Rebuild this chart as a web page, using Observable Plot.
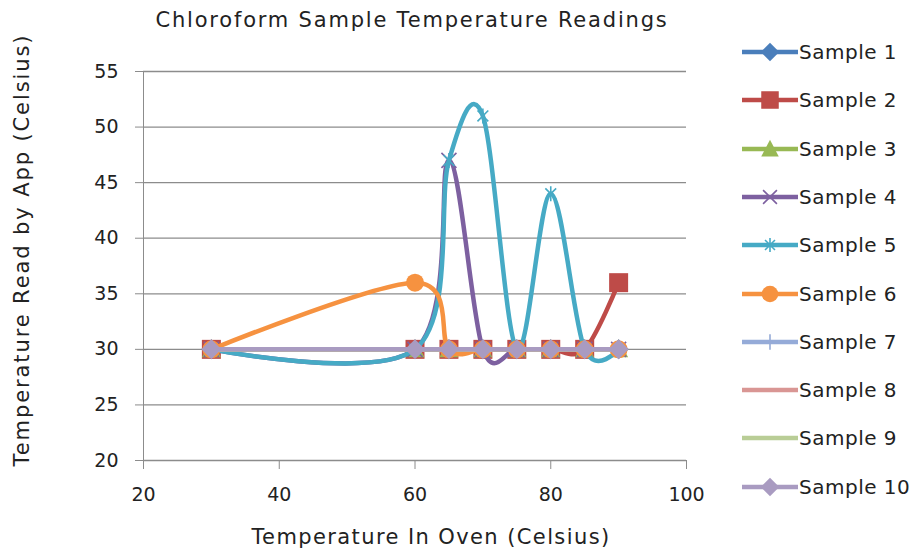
<!DOCTYPE html>
<html>
<head>
<meta charset="utf-8">
<script src="https://cdn.jsdelivr.net/npm/d3@7"></script>
<script src="https://cdn.jsdelivr.net/npm/@observablehq/plot@0.6"></script>
<style>
  html, body { margin:0; padding:0; background:#fff; }
  #wrap { position:relative; width:912px; height:552px; font-family:"DejaVu Sans", sans-serif; color:#222; }
  #wrap svg text { fill:#222; }
  .abs { position:absolute; white-space:nowrap; }
  #title { left:412px; top:8px; transform:translateX(-50%); font-size:21px; letter-spacing:1.8px; }
  #xtitle { left:431px; top:525px; transform:translateX(-50%); font-size:21px; letter-spacing:1.4px; }
  #ytitle { left:22px; top:250px; font-size:21px; letter-spacing:1.9px; transform:translate(-50%,-50%) rotate(-90deg); }
  .leg { position:absolute; left:742px; height:30px; display:flex; align-items:center; font-size:20px; letter-spacing:0.5px; }
  .leg svg { display:block; }
</style>
</head>
<body>
<div id="wrap"></div>
<script>
// ---- data ----
const ovenTemps = [30, 60, 65, 70, 75, 80, 85, 90];
const sample1  = [30, 30, 30, 30, 30, 30, 30, 30];
const sample2  = [30, 30, 30, 30, 30, 30, 30, 36];
const sample3  = [30, 30, 30, 30, 30, 30, 30, 30];
const sample4  = [30, 30, 47, 30, 30, 30, 30, 30];
const sample5  = [30, 30, 47, 51, 30, 44, 30, 30];
const sample6  = [30, 36, 30, 30, 30, 30, 30, 30];
const sample7  = [30, 30, 30, 30, 30, 30, 30, 30];
const sample8  = [30, 30, 30, 30, 30, 30, 30, 30];
const sample9  = [30, 30, 30, 30, 30, 30, 30, 30];
const sample10 = [30, 30, 30, 30, 30, 30, 30, 30];
const seriesNames = ["Sample 1","Sample 2","Sample 3","Sample 4","Sample 5","Sample 6","Sample 7","Sample 8","Sample 9","Sample 10"];
const xTicks = [20, 40, 60, 80, 100];
const yTicks = [20, 25, 30, 35, 40, 45, 50, 55];
const titleText = "Chloroform Sample Temperature Readings";
const xTitle = "Temperature In Oven (Celsius)";
const yTitle = "Temperature Read by App (Celsius)";

// ---- styles ----
const allSeries = [sample1, sample2, sample3, sample4, sample5, sample6, sample7, sample8, sample9, sample10];
const colors = ["#4A7EBB","#BE4B48","#98B954","#7D60A0","#46AAC5","#F69240","#95ABD8","#D99694","#B9CD96","#A99BC1"];
const markerKinds = ["diamond","square","triangle","times","asterisk","circle","plus",null,null,"diamond"];

const rOf = size => Math.sqrt(size / Math.PI);
const symbols = {
  diamond: {draw(c, size){ const h = rOf(size); c.moveTo(0,-h); c.lineTo(h,0); c.lineTo(0,h); c.lineTo(-h,0); c.closePath(); }},
  square: {draw(c, size){ const h = rOf(size)*0.95; c.rect(-h,-h,2*h,2*h); }},
  triangle: {draw(c, size){ const h = rOf(size); c.moveTo(0,-h); c.lineTo(h*0.95,h*0.8); c.lineTo(-h*0.95,h*0.8); c.closePath(); }},
  circle: {draw(c, size){ const h = rOf(size)*0.9; c.moveTo(h,0); c.arc(0,0,h,0,2*Math.PI); }},
  times: {draw(c, size){ const h = rOf(size)*0.75; c.moveTo(-h,-h); c.lineTo(h,h); c.moveTo(h,-h); c.lineTo(-h,h); }},
  asterisk: {draw(c, size){ const h = rOf(size)*0.75; const d = h*0.72;
    c.moveTo(-d,-d); c.lineTo(d,d); c.moveTo(d,-d); c.lineTo(-d,d); c.moveTo(0,-h); c.lineTo(0,h); }},
  plus: {draw(c, size){ const h = rOf(size)*0.85; c.moveTo(0,-h); c.lineTo(0,h); c.moveTo(-h*0.3,0); c.lineTo(h*0.3,0); }}
};
const strokeKinds = new Set(["times","asterisk","plus"]);
const markerR = 10;

const marks = [Plot.ruleY(yTicks, {stroke:"#8c8c8c", strokeWidth:1.3})];
allSeries.forEach((vals, i) => {
  const rows = ovenTemps.map((t, j) => ({t, v: vals[j]}));
  marks.push(Plot.line(rows, {x:"t", y:"v", stroke:colors[i], strokeWidth:4.5, curve:"cardinal", tension:0}));
  const k = markerKinds[i];
  if (k) {
    if (strokeKinds.has(k)) {
      marks.push(Plot.dot(rows, {x:"t", y:"v", r:markerR, symbol:symbols[k], fill:"none", stroke:colors[i], strokeWidth:1.6}));
    } else {
      marks.push(Plot.dot(rows, {x:"t", y:"v", r:markerR, symbol:symbols[k], fill:colors[i], stroke:"none"}));
    }
  }
});

const chart = Plot.plot({
  width: 912, height: 552,
  marginTop: 71, marginBottom: 92, marginLeft: 143, marginRight: 226,
  style: {fontFamily: "'DejaVu Sans', sans-serif", fontSize: "19px", color: "#8c8c8c", background: "transparent"},
  x: {domain: [20, 100], ticks: xTicks, tickSize: 9, tickPadding: 18, line: true, label: null},
  y: {domain: [20, 55], ticks: yTicks, tickSize: 8, tickPadding: 17, line: true, label: null},
  marks
});

const wrap = document.getElementById("wrap");
wrap.appendChild(chart);

function addText(id, txt) {
  const d = document.createElement("div");
  d.id = id; d.className = "abs"; d.textContent = txt; wrap.appendChild(d);
}
addText("title", titleText);
addText("xtitle", xTitle);
addText("ytitle", yTitle);

// legend
const legendRowsY = seriesNames.map((_, i) => 52 + i * 48.3);
seriesNames.forEach((name, i) => {
  const row = document.createElement("div");
  row.className = "leg";
  row.style.top = (legendRowsY[i] - 15) + "px";
  const svg = d3.create("svg").attr("width", 57).attr("height", 30);
  svg.append("line").attr("x1", 0).attr("x2", 56).attr("y1", 15).attr("y2", 15)
    .attr("stroke", colors[i]).attr("stroke-width", 4.5);
  const k = markerKinds[i];
  if (k) {
    const p = d3.symbol(symbols[k], Math.PI * markerR * markerR * 0.85)();
    const path = svg.append("path").attr("d", p).attr("transform", "translate(28,15)");
    if (strokeKinds.has(k)) path.attr("fill", "none").attr("stroke", colors[i]).attr("stroke-width", 1.6);
    else path.attr("fill", colors[i]);
  }
  row.appendChild(svg.node());
  const span = document.createElement("span");
  span.textContent = name;
  row.appendChild(span);
  wrap.appendChild(row);
});
</script>
</body>
</html>
